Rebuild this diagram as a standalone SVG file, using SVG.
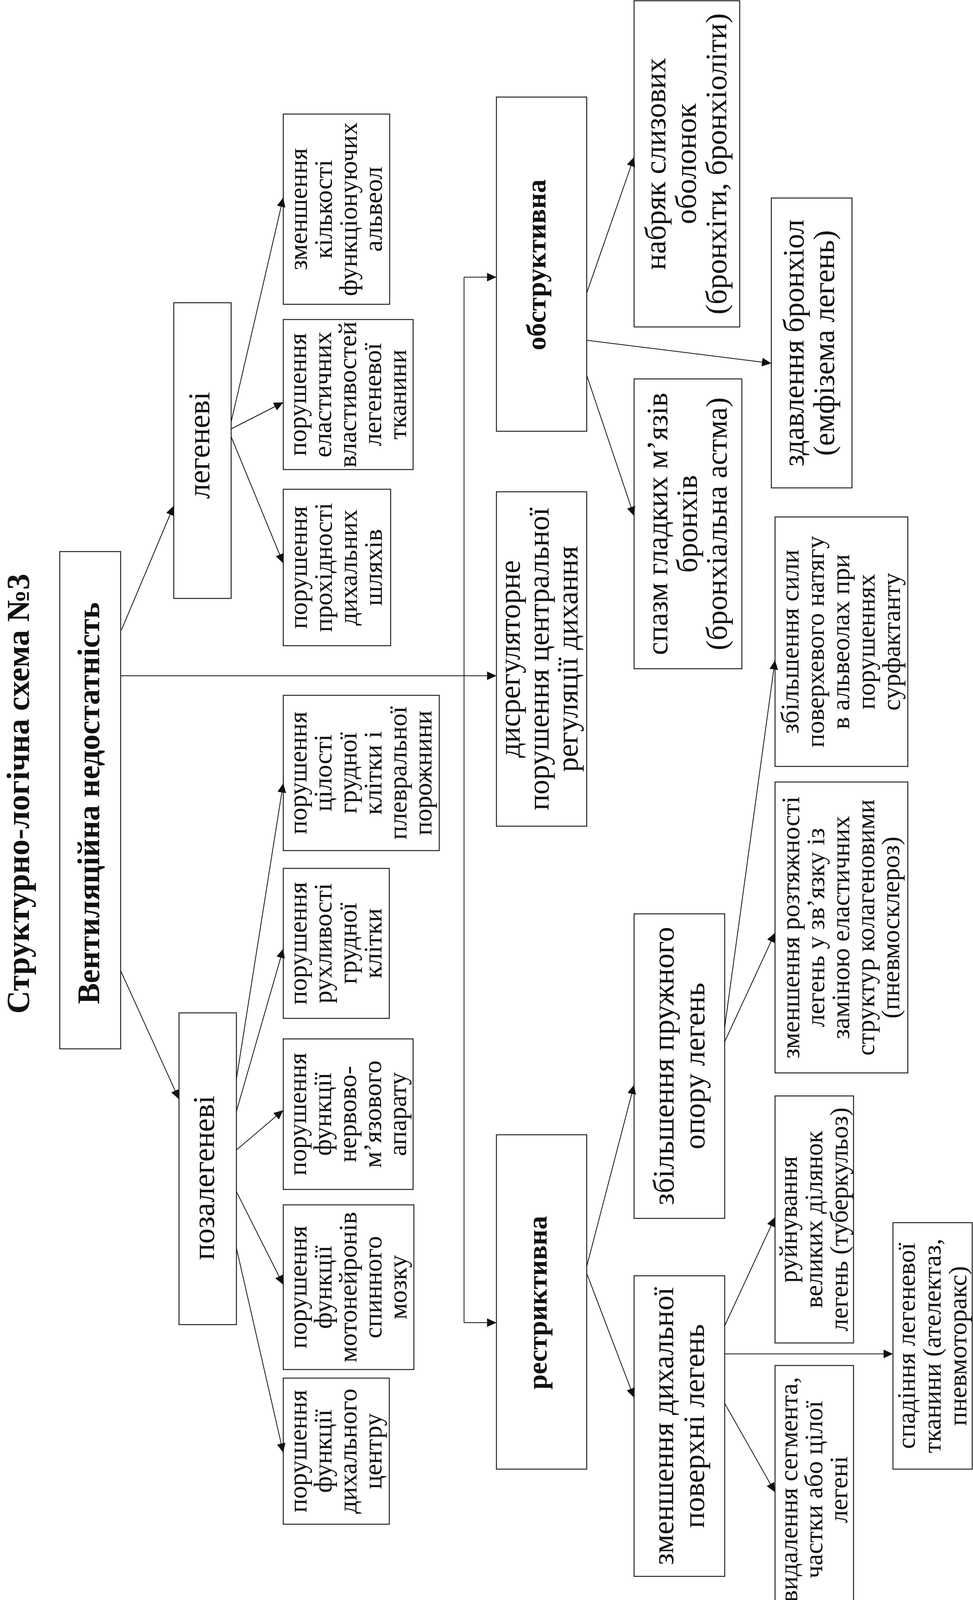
<svg xmlns="http://www.w3.org/2000/svg" width="2492" height="4133" viewBox="0 0 2492 4133">
<style>
.box{fill:#fff;stroke:#222;stroke-width:2.5}
text{font-family:"Liberation Serif","Times New Roman",serif;fill:#111;text-anchor:middle}
.b{font-weight:bold}
.c{fill:none;stroke:#111;stroke-width:2}
.a{marker-end:url(#ah)}
</style>
<defs>
<marker id="ah" viewBox="0 0 24 22" refX="24" refY="11" markerWidth="24" markerHeight="22" markerUnits="userSpaceOnUse" orient="auto">
<path d="M0,0 L24,11 L0,22 z" fill="#111"/>
</marker>
</defs>
<rect width="2492" height="4133" fill="#fff"/>

<g id="title">
<text class="b" font-size="82" transform="translate(74,2032) rotate(-90)">Структурно-логічна схема №3</text>
</g>

<g id="vent">
<rect class="box" x="153" y="1412" width="156" height="1273"/>
<text class="b" font-size="80" transform="translate(254,2056) rotate(-90)">Вентиляційна недостатність</text>
</g>

<g id="legenevi">
<rect class="box" x="445" y="775" width="147" height="757"/>
<text font-size="78" transform="translate(536,1140) rotate(-90)">легеневі</text>
</g>

<g id="pozalegenevi">
<rect class="box" x="458.5" y="2593" width="147" height="798"/>
<text font-size="78" transform="translate(548,3015) rotate(-90)">позалегеневі</text>
</g>

<g id="alveol">
<rect class="box" x="725.5" y="292" width="272.5" height="487"/>
<text font-size="66" transform="translate(786,535.5) rotate(-90)"><tspan x="0" y="0">зменшення</tspan><tspan x="0" y="64">кількості</tspan><tspan x="0" y="128">функціонуючих</tspan><tspan x="0" y="192">альвеол</tspan></text>
</g>

<g id="elast">
<rect class="box" x="725.5" y="818" width="332.5" height="384"/>
<text font-size="66" transform="translate(784,1010) rotate(-90)"><tspan x="0" y="0">порушення</tspan><tspan x="0" y="64">еластичних</tspan><tspan x="0" y="128">властивостей</tspan><tspan x="0" y="192">легеневої</tspan><tspan x="0" y="256">тканини</tspan></text>
</g>

<g id="prohid">
<rect class="box" x="725.5" y="1252.5" width="275" height="400.5"/>
<text font-size="66" transform="translate(786,1452.75) rotate(-90)"><tspan x="0" y="0">порушення</tspan><tspan x="0" y="64">прохідності</tspan><tspan x="0" y="128">дихальних</tspan><tspan x="0" y="192">шляхів</tspan></text>
</g>

<g id="cilosti">
<rect class="box" x="725.5" y="1780" width="399.5" height="397.5"/>
<text font-size="66" transform="translate(785,1978.75) rotate(-90)"><tspan x="0" y="0">порушення</tspan><tspan x="0" y="64">цілості</tspan><tspan x="0" y="128">грудної</tspan><tspan x="0" y="192">клітки і</tspan><tspan x="0" y="256">плевральної</tspan><tspan x="0" y="320">порожнини</tspan></text>
</g>

<g id="ruhlyvosti">
<rect class="box" x="725.5" y="2223" width="271.5" height="384"/>
<text font-size="66" transform="translate(785,2415) rotate(-90)"><tspan x="0" y="0">порушення</tspan><tspan x="0" y="64">рухливості</tspan><tspan x="0" y="128">грудної</tspan><tspan x="0" y="192">клітки</tspan></text>
</g>

<g id="nervovo">
<rect class="box" x="725.5" y="2659.6" width="332.5" height="385.4"/>
<text font-size="66" transform="translate(784,2852.3) rotate(-90)"><tspan x="0" y="0">порушення</tspan><tspan x="0" y="64">функції</tspan><tspan x="0" y="128">нервово-</tspan><tspan x="0" y="192">м’язового</tspan><tspan x="0" y="256">апарату</tspan></text>
</g>

<g id="motoneir">
<rect class="box" x="725.5" y="3084.5" width="334.5" height="421.5"/>
<text font-size="66" transform="translate(785,3295.25) rotate(-90)"><tspan x="0" y="0">порушення</tspan><tspan x="0" y="64">функції</tspan><tspan x="0" y="128">мотонейронів</tspan><tspan x="0" y="192">спинного</tspan><tspan x="0" y="256">мозку</tspan></text>
</g>

<g id="dyhcentr">
<rect class="box" x="725.5" y="3528" width="271.5" height="374"/>
<text font-size="66" transform="translate(785,3715) rotate(-90)"><tspan x="0" y="0">порушення</tspan><tspan x="0" y="64">функції</tspan><tspan x="0" y="128">дихального</tspan><tspan x="0" y="192">центру</tspan></text>
</g>

<g id="obstr">
<rect class="box" x="1271.4" y="248.5" width="231.3" height="855.5"/>
<text class="b" font-size="70" transform="translate(1397,678) rotate(-90)">обструктивна</text>
</g>

<g id="dysreg">
<rect class="box" x="1271.4" y="1259" width="231.3" height="856"/>
<text font-size="76" transform="translate(1331,1687) rotate(-90)"><tspan x="0" y="0">дисрегуляторне</tspan><tspan x="0" y="74">порушення центральної</tspan><tspan x="0" y="148">регуляції дихання</tspan></text>
</g>

<g id="restr">
<rect class="box" x="1271.4" y="2905" width="231.3" height="856"/>
<text class="b" font-size="70" transform="translate(1400,3335) rotate(-90)">рестриктивна</text>
</g>

<g id="nabryak">
<rect class="box" x="1624" y="2" width="270.5" height="835"/>
<text font-size="77" transform="translate(1704,419.5) rotate(-90)"><tspan x="0" y="0">набряк слизових</tspan><tspan x="0" y="78">оболонок</tspan><tspan x="0" y="156">(бронхіти, бронхіоліти)</tspan></text>
</g>

<g id="spazm">
<rect class="box" x="1624" y="970" width="276" height="742"/>
<text font-size="76" transform="translate(1709,1341) rotate(-90)"><tspan x="0" y="0">спазм гладких м’язів</tspan><tspan x="0" y="76">бронхів</tspan><tspan x="0" y="152">(бронхіальна астма)</tspan></text>
</g>

<g id="zdavl">
<rect class="box" x="1975.5" y="507" width="206.5" height="742"/>
<text font-size="76" transform="translate(2058,878) rotate(-90)"><tspan x="0" y="0">здавлення бронхіол</tspan><tspan x="0" y="78">(емфізема легень)</tspan></text>
</g>

<g id="pruzhn">
<rect class="box" x="1624" y="2339.5" width="232" height="779.5"/>
<text font-size="77" transform="translate(1725,2729) rotate(-90)"><tspan x="0" y="0">збільшення пружного</tspan><tspan x="0" y="79">опору легень</tspan></text>
</g>

<g id="zmdyh">
<rect class="box" x="1624" y="3266" width="232" height="769.5"/>
<text font-size="77" transform="translate(1724,3650.75) rotate(-90)"><tspan x="0" y="0">зменшення дихальної</tspan><tspan x="0" y="79">поверхні легень</tspan></text>
</g>

<g id="syly">
<rect class="box" x="1985" y="1323.4" width="340" height="638.6"/>
<text font-size="66" transform="translate(2045,1642.7) rotate(-90)"><tspan x="0" y="0">збільшення сили</tspan><tspan x="0" y="65">поверхевого натягу</tspan><tspan x="0" y="130">в альвеолах при</tspan><tspan x="0" y="195">порушеннях</tspan><tspan x="0" y="260">сурфактанту</tspan></text>
</g>

<g id="roztyazhn">
<rect class="box" x="1985" y="2002" width="340" height="744.7"/>
<text font-size="66" transform="translate(2047,2374.5) rotate(-90)"><tspan x="0" y="0">зменшення розтяжності</tspan><tspan x="0" y="64">легень у зв’язку із</tspan><tspan x="0" y="128">заміною еластичних</tspan><tspan x="0" y="192">структур колагеновими</tspan><tspan x="0" y="256">(пневмосклероз)</tspan></text>
</g>

<g id="ruinuv">
<rect class="box" x="1985" y="2805.6" width="201" height="632.4"/>
<text font-size="65" transform="translate(2040.5,3121.8) rotate(-90)"><tspan x="0" y="0">руйнування</tspan><tspan x="0" y="65">великих ділянок</tspan><tspan x="0" y="130">легень (туберкульоз)</tspan></text>
</g>

<g id="vydal">
<rect class="box" x="1985" y="3495.7" width="201" height="635.3"/>
<text font-size="66" transform="translate(2041.5,3813.4) rotate(-90)"><tspan x="0" y="0">видалення сегмента,</tspan><tspan x="0" y="64">частки або цілої</tspan><tspan x="0" y="128">легені</tspan></text>
</g>

<g id="spadinnya">
<rect class="box" x="2287" y="3130" width="203" height="631"/>
<text font-size="66" transform="translate(2342.5,3445.5) rotate(-90)"><tspan x="0" y="0">спадіння легеневої</tspan><tspan x="0" y="66">тканини (ателектаз,</tspan><tspan x="0" y="132">пневмоторакс)</tspan></text>
</g>

<g id="connectors">
<path class="c a" d="M311,1613 L445,1295"/>
<path class="c a" d="M309,2485 L458.5,2814"/>
<path class="c a" d="M309,1730 L1271.4,1730"/>
<path class="c" d="M1188.5,709.5 L1188.5,3386"/>
<path class="c a" d="M1188.5,709.5 L1271.4,709.5"/>
<path class="c a" d="M1188.5,3386 L1271.4,3386"/>
<path class="c a" d="M592,1080 L725.5,505.6"/>
<path class="c a" d="M592,1098 L725.5,1030"/>
<path class="c a" d="M592,1118 L725.5,1442"/>
<path class="c a" d="M605.5,2762 L725.5,2005"/>
<path class="c a" d="M605.5,2845 L725.5,2428.6"/>
<path class="c a" d="M605.5,2944 L725.5,2842"/>
<path class="c a" d="M605.5,3050.6 L725.5,3289"/>
<path class="c a" d="M605.5,3195 L725.5,3719"/>
<path class="c a" d="M1502.7,750 L1624,402"/>
<path class="c a" d="M1502.7,871 L1975.5,930"/>
<path class="c a" d="M1502.7,961 L1624,1321"/>
<path class="c a" d="M1502.7,3242 L1624,2777"/>
<path class="c a" d="M1502.7,3260 L1624,3578"/>
<path class="c a" d="M1856,2630 L1985,1690"/>
<path class="c a" d="M1856,2667 L1985,2388"/>
<path class="c a" d="M1856,3394 L1985,3116"/>
<path class="c a" d="M1856,3466 L2287,3466"/>
<path class="c a" d="M1856,3592.5 L1985,3820"/>
</g>
</svg>
